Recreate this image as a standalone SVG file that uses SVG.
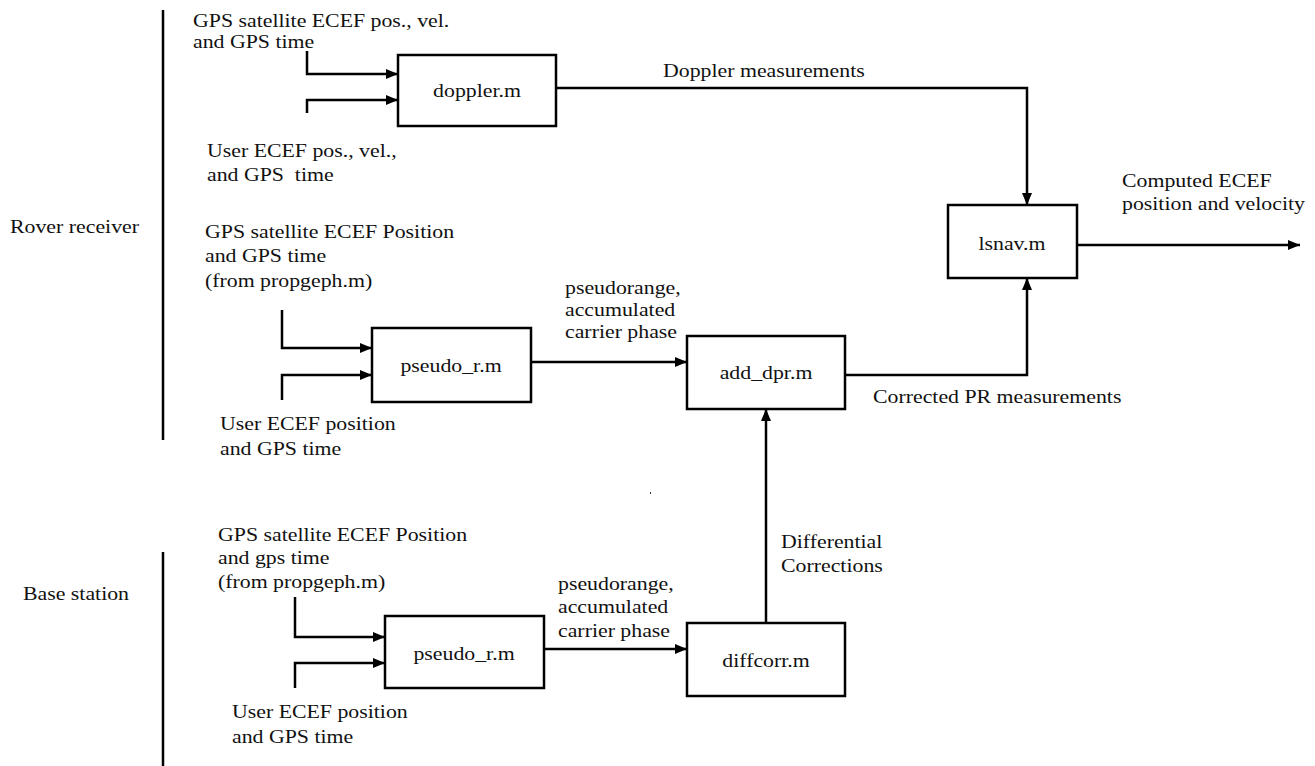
<svg xmlns="http://www.w3.org/2000/svg" width="1315" height="766" viewBox="0 0 1315 766">
<style>
  .t { font-family: "Liberation Serif", "Times New Roman", serif; font-size: 18.5px; fill: #111; }
  .box { fill: #fff; stroke: #000; stroke-width: 2.5; }
  .c { fill: none; stroke: #000; stroke-width: 2.5; }
</style>
<defs>
  <marker id="ah" markerUnits="userSpaceOnUse" markerWidth="12" markerHeight="12" viewBox="0 0 12 12" refX="12" refY="6" orient="auto">
    <path d="M0,1 L12,6 L0,11 Z" fill="#000"/>
  </marker>
</defs>
<rect width="1315" height="766" fill="#fff"/>

<g id="connectors">
  <path class="c" d="M163 10 V440"/>
  <path class="c" d="M163 552 V766"/>
  <path class="c" d="M307 51 V74 H398" marker-end="url(#ah)"/>
  <path class="c" d="M307 113 V100 H398" marker-end="url(#ah)"/>
  <path class="c" d="M556 88 H1027 V205" marker-end="url(#ah)"/>
  <path class="c" d="M282 310 V348 H372" marker-end="url(#ah)"/>
  <path class="c" d="M282 400 V375 H372" marker-end="url(#ah)"/>
  <path class="c" d="M531 362 H687" marker-end="url(#ah)"/>
  <path class="c" d="M845 375 H1027 V278" marker-end="url(#ah)"/>
  <path class="c" d="M1077 245 H1300" marker-end="url(#ah)"/>
  <path class="c" d="M295 597 V637 H385" marker-end="url(#ah)"/>
  <path class="c" d="M295 688 V663 H385" marker-end="url(#ah)"/>
  <path class="c" d="M544 649 H687" marker-end="url(#ah)"/>
  <path class="c" d="M766 623 V409" marker-end="url(#ah)"/>
  <rect x="650" y="492" width="1" height="2" fill="#333"/>
</g>

<g id="doppler">
  <rect class="box" x="398" y="55" width="158" height="71"/>
  <text class="t" transform="translate(477,97) scale(1.18,1)" text-anchor="middle">doppler.m</text>
</g>
<g id="pseudo_r_rover">
  <rect class="box" x="372" y="328" width="159" height="74"/>
  <text class="t" transform="translate(451,372) scale(1.18,1)" text-anchor="middle">pseudo_r.m</text>
</g>
<g id="add_dpr">
  <rect class="box" x="687" y="336" width="158" height="73"/>
  <text class="t" transform="translate(766,379) scale(1.18,1)" text-anchor="middle">add_dpr.m</text>
</g>
<g id="lsnav">
  <rect class="box" x="948" y="205" width="129" height="73"/>
  <text class="t" transform="translate(1012,250) scale(1.18,1)" text-anchor="middle">lsnav.m</text>
</g>
<g id="pseudo_r_base">
  <rect class="box" x="385" y="616" width="159" height="72"/>
  <text class="t" transform="translate(464,660) scale(1.18,1)" text-anchor="middle">pseudo_r.m</text>
</g>
<g id="diffcorr">
  <rect class="box" x="687" y="623" width="158" height="73"/>
  <text class="t" transform="translate(766,667) scale(1.18,1)" text-anchor="middle">diffcorr.m</text>
</g>

<g id="labels">
  <text class="t" transform="translate(10,233) scale(1.18,1)">Rover receiver</text>
  <text class="t" transform="translate(23,600) scale(1.18,1)">Base station</text>

  <text class="t" transform="translate(193,27) scale(1.18,1)">GPS satellite ECEF pos., vel.<tspan x="0" dy="21">and GPS time</tspan></text>
  <text class="t" transform="translate(207,157) scale(1.18,1)">User ECEF pos., vel.,<tspan x="0" dy="24">and GPS&#160; time</tspan></text>
  <text class="t" transform="translate(663,77) scale(1.18,1)">Doppler measurements</text>
  <text class="t" transform="translate(1122,187) scale(1.18,1)">Computed ECEF<tspan x="0" dy="23">position and velocity</tspan></text>

  <text class="t" transform="translate(205,238) scale(1.18,1)">GPS satellite ECEF Position<tspan x="0" dy="24">and GPS time</tspan><tspan x="0" dy="25">(from propgeph.m)</tspan></text>
  <text class="t" transform="translate(565,294) scale(1.18,1)">pseudorange,<tspan x="0" dy="22">accumulated</tspan><tspan x="0" dy="22">carrier phase</tspan></text>
  <text class="t" transform="translate(220,430) scale(1.18,1)">User ECEF position<tspan x="0" dy="25">and GPS time</tspan></text>
  <text class="t" transform="translate(873,403) scale(1.18,1)">Corrected PR measurements</text>

  <text class="t" transform="translate(781,548) scale(1.18,1)">Differential<tspan x="0" dy="24">Corrections</tspan></text>

  <text class="t" transform="translate(218,541) scale(1.18,1)">GPS satellite ECEF Position<tspan x="0" dy="23">and gps time</tspan><tspan x="0" dy="24">(from propgeph.m)</tspan></text>
  <text class="t" transform="translate(558,590) scale(1.18,1)">pseudorange,<tspan x="0" dy="23">accumulated</tspan><tspan x="0" dy="24">carrier phase</tspan></text>
  <text class="t" transform="translate(232,718) scale(1.18,1)">User ECEF position<tspan x="0" dy="25">and GPS time</tspan></text>
</g>
</svg>
